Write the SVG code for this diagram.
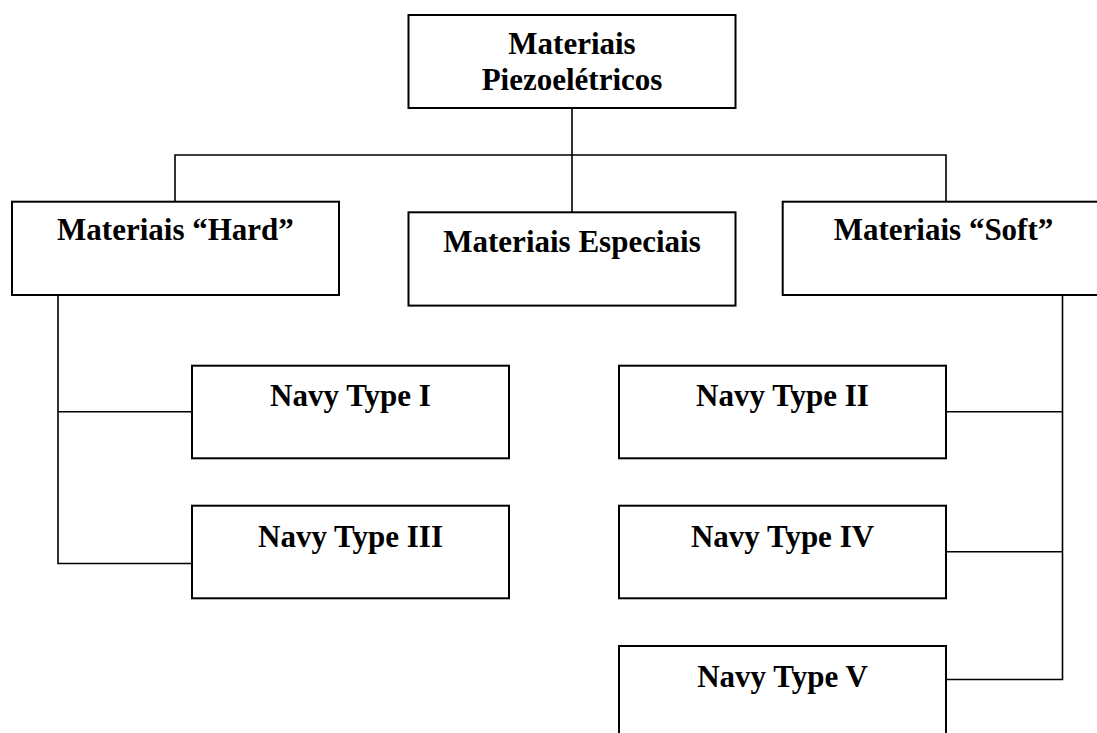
<svg xmlns="http://www.w3.org/2000/svg" width="1097" height="733" viewBox="0 0 1097 733">
<style>
.box{fill:#fff;stroke:#000;stroke-width:2}
.ln{fill:none;stroke:#000;stroke-width:1.6}
text{font-family:"Liberation Serif","Times New Roman",serif;font-weight:bold;font-size:31px;text-anchor:middle;fill:#000}
</style>
<rect width="1097" height="733" fill="#fff"/>
<g id="connectors">
<path class="ln" d="M572,108 V212 M175,201.7 V155 H946 V201.7"/>
<path class="ln" d="M58,295 V563.5 H192 M58,411.7 H192"/>
<path class="ln" d="M1062.5,295 V679.5 H946 M946,411.7 H1062.5 M946,551.7 H1062.5"/>
</g>
<g id="n-piezo"><rect class="box" x="408.5" y="15" width="327" height="93"/><text x="572" y="54">Materiais</text><text x="572" y="90">Piezoelétricos</text></g>
<g id="n-hard"><rect class="box" x="12" y="201.7" width="327" height="93.3"/><text x="175.5" y="240">Materiais “Hard”</text></g>
<g id="n-especiais"><rect class="box" x="408.5" y="212.3" width="327" height="93.3"/><text x="572" y="251.5">Materiais Especiais</text></g>
<g id="n-soft"><rect class="box" x="782.7" y="201.7" width="323" height="93.3"/><text x="943.5" y="240">Materiais “Soft”</text></g>
<g id="n-type1"><rect class="box" x="192" y="365.7" width="317" height="92.6"/><text x="350.5" y="406">Navy Type I</text></g>
<g id="n-type3"><rect class="box" x="192" y="505.7" width="317" height="92.6"/><text x="350.5" y="546.5">Navy Type III</text></g>
<g id="n-type2"><rect class="box" x="619" y="365.7" width="327" height="92.6"/><text x="782.5" y="406">Navy Type II</text></g>
<g id="n-type4"><rect class="box" x="619" y="505.7" width="327" height="92.6"/><text x="782.5" y="546.5">Navy Type IV</text></g>
<g id="n-type5"><rect class="box" x="619" y="646" width="327" height="100"/><text x="782.5" y="686.5">Navy Type V</text></g>
</svg>
